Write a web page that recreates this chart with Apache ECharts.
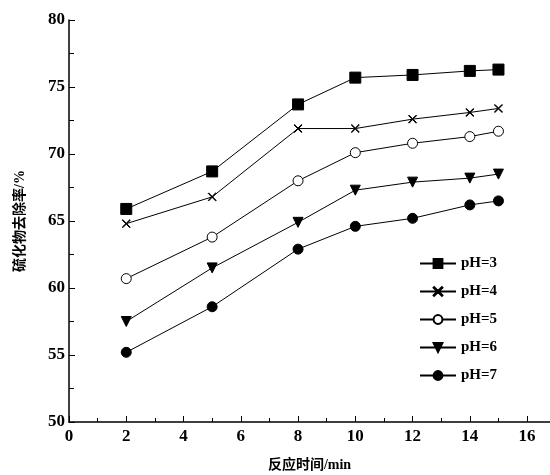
<!DOCTYPE html>
<html lang="zh">
  <head>
    <meta charset="UTF-8" />
    <title>硫化物去除率</title>
    <script src="https://cdn.jsdelivr.net/npm/echarts@6/dist/echarts.min.js"></script>
    <style>
      html, body { margin: 0; padding: 0; background: #fff; }
    </style>
  </head>
  <body>
    <div id="chart" style="width: 550px; height: 475px"></div>

    <script>
      // 反应时间 (min)
      var times = [2, 5, 8, 10, 12, 14, 15];
      // 各 pH 下的硫化物去除率 (%)
      var ph3 = [65.9, 68.7, 73.7, 75.7, 75.9, 76.2, 76.3];
      var ph4 = [64.8, 66.8, 71.9, 71.9, 72.6, 73.1, 73.4];
      var ph5 = [60.7, 63.8, 68.0, 70.1, 70.8, 71.3, 71.7];
      var ph6 = [57.5, 61.5, 64.9, 67.3, 67.9, 68.2, 68.5];
      var ph7 = [55.2, 58.6, 62.9, 64.6, 65.2, 66.2, 66.5];
      var seriesNames = ["pH=3", "pH=4", "pH=5", "pH=6", "pH=7"];

      var font = "'Liberation Serif', 'Noto Sans CJK SC', serif";
      // 细线 x 形标记
      var cross = "path://M0,0.6L0.6,0L5,4.4L9.4,0L10,0.6L5.6,5L10,9.4L9.4,10L5,5.6L0.6,10L0,9.4L4.4,5Z";
      var triDown = "path://M0,0L10,0L5,10Z";

      function pairs(ys) {
        return times.map(function (t, i) {
          return [t, ys[i]];
        });
      }

      function makeSeries(name, ys, symbol, size, fill) {
        return {
          name: name,
          type: "line",
          data: pairs(ys),
          symbol: symbol,
          symbolSize: size,
          showAllSymbol: true,
          lineStyle: { color: "#000", width: 1 },
          itemStyle: { color: fill, borderColor: "#000", borderWidth: 1 },
          emphasis: { disabled: true },
          animation: false,
        };
      }

      var chart = echarts.init(document.getElementById("chart"));

      var option = {
        backgroundColor: "#fff",
        animation: false,
        grid: {
          left: 69,
          right: 0,
          top: 20,
          bottom: 53,
          containLabel: false,
          outerBoundsMode: "none",
        },
        legend: {
          orient: "vertical",
          left: 414,
          top: 251,
          itemGap: 13,
          itemWidth: 36,
          itemHeight: 11,
          data: seriesNames,
          textStyle: { fontFamily: font, fontWeight: "bold", fontSize: 15, color: "#000" },
        },
        xAxis: {
          type: "value",
          min: 0,
          max: 16.8,
          interval: 2,
          name: "反应时间/min",
          nameLocation: "middle",
          nameGap: 36,
          nameTextStyle: { fontFamily: font, fontWeight: "bold", fontSize: 14, color: "#000" },
          axisLine: { lineStyle: { color: "#000", width: 1.5 } },
          axisTick: { inside: true, length: 6, lineStyle: { color: "#000" } },
          minorTick: { show: true, splitNumber: 2, length: 4, lineStyle: { color: "#000" } },
          splitLine: { show: false },
          axisLabel: {
            showMaxLabel: false,
            margin: 6,
            fontFamily: font,
            fontWeight: "bold",
            fontSize: 17,
            color: "#000",
            formatter: function (v) {
              return v % 2 === 0 ? String(v) : "";
            },
          },
        },
        yAxis: {
          type: "value",
          min: 50,
          max: 80,
          interval: 5,
          name: "硫化物去除率/%",
          nameLocation: "middle",
          nameGap: 42,
          nameTextStyle: { fontFamily: font, fontWeight: "bold", fontSize: 14, color: "#000" },
          axisLine: { show: true, lineStyle: { color: "#000", width: 1.5 } },
          axisTick: { show: true, inside: true, length: 6, lineStyle: { color: "#000" } },
          minorTick: { show: true, splitNumber: 2, length: 5, lineStyle: { color: "#000" } },
          splitLine: { show: false },
          axisLabel: {
            margin: 4,
            fontFamily: font,
            fontWeight: "bold",
            fontSize: 17,
            color: "#000",
          },
        },
        series: [
          makeSeries("pH=3", ph3, "rect", 11, "#000"),
          makeSeries("pH=4", ph4, cross, 8, "#000"),
          makeSeries("pH=5", ph5, "circle", 10, "#fff"),
          makeSeries("pH=6", ph6, triDown, 10, "#000"),
          makeSeries("pH=7", ph7, "circle", 10, "#000"),
        ],
      };

      chart.setOption(option);
    </script>
  </body>
</html>
